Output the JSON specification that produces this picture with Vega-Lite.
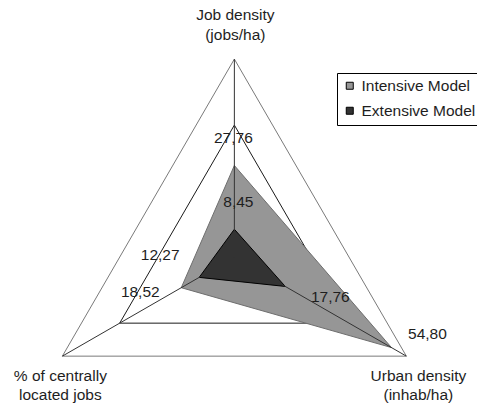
{
  "$schema": "https://vega.github.io/schema/vega-lite/v6.json",
  "width": 477,
  "height": 405,
  "padding": 0,
  "autosize": "none",
  "config": {
    "view": {"stroke": null},
    "font": "Liberation Sans",
    "text": {"font": "Liberation Sans", "fontSize": 15.5, "color": "#1e1e1e"},
    "locale": {"number": {"decimal": ",", "thousands": ".", "grouping": [3], "currency": ["", ""]}}
  },
  "datasets": {
    "axes": [
      {"axis": "Job density", "k": 0, "title": "Job density|(jobs/ha)", "max": 60},
      {"axis": "Urban density", "k": 1, "title": "Urban density|(inhab/ha)", "max": 60},
      {"axis": "% of centrally located jobs", "k": 2, "title": "% of centrally|located jobs", "max": 60}
    ],
    "grid": [
      {"level": 40, "k": 0}, {"level": 40, "k": 1}, {"level": 40, "k": 2},
      {"level": 60, "k": 0}, {"level": 60, "k": 1}, {"level": 60, "k": 2}
    ],
    "models": [
      {"series": "Intensive Model", "axis": "Job density", "k": 0, "value": 27.76},
      {"series": "Intensive Model", "axis": "Urban density", "k": 1, "value": 54.80},
      {"series": "Intensive Model", "axis": "% of centrally located jobs", "k": 2, "value": 18.52},
      {"series": "Extensive Model", "axis": "Job density", "k": 0, "value": 8.45},
      {"series": "Extensive Model", "axis": "Urban density", "k": 1, "value": 17.76},
      {"series": "Extensive Model", "axis": "% of centrally located jobs", "k": 2, "value": 12.27}
    ]
  },
  "layer": [
    {
      "data": {"name": "grid"},
      "transform": [
        {"filter": "datum.level == 40"},
        {"calculate": "datum.k == 0 ? PI/2 : (datum.k == 1 ? -PI/6 : 7*PI/6)", "as": "ang"},
        {"calculate": "datum.level * cos(datum.ang)", "as": "px"},
        {"calculate": "datum.level * sin(datum.ang)", "as": "py"}
      ],
      "mark": {"type": "line", "interpolate": "linear-closed", "stroke": "#1a1a1a", "strokeWidth": 1},
      "encoding": {
        "x": {"field": "px", "type": "quantitative", "scale": {"domain": [-70.8, 73.3], "nice": false, "zero": false}, "axis": null},
        "y": {"field": "py", "type": "quantitative", "scale": {"domain": [-44.8, 77.9], "nice": false, "zero": false}, "axis": null},
        "order": {"field": "k", "type": "quantitative"},
        "detail": {"field": "level", "type": "nominal"}
      }
    },
    {
      "data": {"name": "grid"},
      "transform": [
        {"filter": "datum.level == 60"},
        {"calculate": "datum.k == 0 ? PI/2 : (datum.k == 1 ? -PI/6 : 7*PI/6)", "as": "ang"},
        {"calculate": "datum.level * cos(datum.ang)", "as": "px"},
        {"calculate": "datum.level * sin(datum.ang)", "as": "py"}
      ],
      "mark": {"type": "line", "interpolate": "linear-closed", "stroke": "#7a7a7a", "strokeWidth": 1},
      "encoding": {
        "x": {"field": "px", "type": "quantitative"},
        "y": {"field": "py", "type": "quantitative"},
        "order": {"field": "k", "type": "quantitative"},
        "detail": {"field": "level", "type": "nominal"}
      }
    },
    {
      "data": {"name": "models"},
      "transform": [
        {"filter": "datum.series == 'Intensive Model'"},
        {"calculate": "datum.k == 0 ? PI/2 : (datum.k == 1 ? -PI/6 : 7*PI/6)", "as": "ang"},
        {"calculate": "datum.value * cos(datum.ang)", "as": "px"},
        {"calculate": "datum.value * sin(datum.ang)", "as": "py"}
      ],
      "mark": {"type": "line", "interpolate": "linear-closed", "stroke": "#6e6e6e", "strokeWidth": 1},
      "encoding": {
        "x": {"field": "px", "type": "quantitative"},
        "y": {"field": "py", "type": "quantitative"},
        "order": {"field": "k", "type": "quantitative"},
        "fill": {
          "field": "series", "type": "nominal",
          "scale": {"domain": ["Intensive Model", "Extensive Model"], "range": ["#969696", "#333333"]},
          "legend": {
            "orient": "none", "legendX": 337, "legendY": 73, "title": null,
            "symbolType": "square", "symbolSize": 49, "symbolStrokeColor": "#000", "symbolStrokeWidth": 1,
            "labelFontSize": 15.5, "labelFont": "Liberation Sans", "labelColor": "#1e1e1e",
            "strokeColor": "#000", "fillColor": "#fff", "padding": 5, "rowPadding": 8, "labelOffset": 4
          }
        }
      }
    },
    {
      "data": {"name": "models"},
      "transform": [
        {"filter": "datum.series == 'Extensive Model'"},
        {"calculate": "datum.k == 0 ? PI/2 : (datum.k == 1 ? -PI/6 : 7*PI/6)", "as": "ang"},
        {"calculate": "datum.value * cos(datum.ang)", "as": "px"},
        {"calculate": "datum.value * sin(datum.ang)", "as": "py"}
      ],
      "mark": {"type": "line", "interpolate": "linear-closed", "stroke": "#000", "strokeWidth": 1},
      "encoding": {
        "x": {"field": "px", "type": "quantitative"},
        "y": {"field": "py", "type": "quantitative"},
        "order": {"field": "k", "type": "quantitative"},
        "fill": {"field": "series", "type": "nominal"}
      }
    },
    {
      "data": {"name": "axes"},
      "transform": [
        {"calculate": "datum.k == 0 ? PI/2 : (datum.k == 1 ? -PI/6 : 7*PI/6)", "as": "ang"},
        {"calculate": "datum.max * cos(datum.ang)", "as": "px"},
        {"calculate": "datum.max * sin(datum.ang)", "as": "py"}
      ],
      "mark": {"type": "rule", "stroke": "#333", "strokeWidth": 1},
      "encoding": {
        "x": {"field": "px", "type": "quantitative"},
        "y": {"field": "py", "type": "quantitative"},
        "x2": {"datum": 0},
        "y2": {"datum": 0}
      }
    },
    {
      "data": {"name": "axes"},
      "transform": [
        {"filter": "datum.k == 0"},
        {"calculate": "datum.max * cos(PI/2)", "as": "px"},
        {"calculate": "datum.max * sin(PI/2)", "as": "py"}
      ],
      "mark": {"type": "text", "lineBreak": "|", "align": "center", "baseline": "middle", "lineHeight": 20, "dx": 1, "dy": -44},
      "encoding": {
        "x": {"field": "px", "type": "quantitative"},
        "y": {"field": "py", "type": "quantitative"},
        "text": {"field": "title", "type": "nominal"}
      }
    },
    {
      "data": {"name": "axes"},
      "transform": [
        {"filter": "datum.k == 1"},
        {"calculate": "datum.max * cos(-PI/6)", "as": "px"},
        {"calculate": "datum.max * sin(-PI/6)", "as": "py"}
      ],
      "mark": {"type": "text", "lineBreak": "|", "align": "center", "baseline": "middle", "lineHeight": 19, "dx": 12, "dy": 20},
      "encoding": {
        "x": {"field": "px", "type": "quantitative"},
        "y": {"field": "py", "type": "quantitative"},
        "text": {"field": "title", "type": "nominal"}
      }
    },
    {
      "data": {"name": "axes"},
      "transform": [
        {"filter": "datum.k == 2"},
        {"calculate": "datum.max * cos(7*PI/6)", "as": "px"},
        {"calculate": "datum.max * sin(7*PI/6)", "as": "py"}
      ],
      "mark": {"type": "text", "lineBreak": "|", "align": "center", "baseline": "middle", "lineHeight": 19, "dx": -2, "dy": 20},
      "encoding": {
        "x": {"field": "px", "type": "quantitative"},
        "y": {"field": "py", "type": "quantitative"},
        "text": {"field": "title", "type": "nominal"}
      }
    },
    {
      "data": {"name": "models"},
      "transform": [
        {"filter": "datum.k == 0 && datum.series == 'Intensive Model'"},
        {"calculate": "datum.value * cos(PI/2)", "as": "px"},
        {"calculate": "datum.value * sin(PI/2)", "as": "py"}
      ],
      "mark": {"type": "text", "align": "center", "baseline": "middle", "dx": -1, "dy": -27},
      "encoding": {
        "x": {"field": "px", "type": "quantitative"},
        "y": {"field": "py", "type": "quantitative"},
        "text": {"field": "value", "type": "quantitative", "format": ".2f"}
      }
    },
    {
      "data": {"name": "models"},
      "transform": [
        {"filter": "datum.k == 0 && datum.series == 'Extensive Model'"},
        {"calculate": "datum.value * cos(PI/2)", "as": "px"},
        {"calculate": "datum.value * sin(PI/2)", "as": "py"}
      ],
      "mark": {"type": "text", "align": "center", "baseline": "middle", "dx": 4, "dy": -27},
      "encoding": {
        "x": {"field": "px", "type": "quantitative"},
        "y": {"field": "py", "type": "quantitative"},
        "text": {"field": "value", "type": "quantitative", "format": ".2f"}
      }
    },
    {
      "data": {"name": "models"},
      "transform": [
        {"filter": "datum.k == 1 && datum.series == 'Intensive Model'"},
        {"calculate": "datum.value * cos(-PI/6)", "as": "px"},
        {"calculate": "datum.value * sin(-PI/6)", "as": "py"}
      ],
      "mark": {"type": "text", "align": "center", "baseline": "middle", "dx": 36, "dy": -14},
      "encoding": {
        "x": {"field": "px", "type": "quantitative"},
        "y": {"field": "py", "type": "quantitative"},
        "text": {"field": "value", "type": "quantitative", "format": ".2f"}
      }
    },
    {
      "data": {"name": "models"},
      "transform": [
        {"filter": "datum.k == 1 && datum.series == 'Extensive Model'"},
        {"calculate": "datum.value * cos(-PI/6)", "as": "px"},
        {"calculate": "datum.value * sin(-PI/6)", "as": "py"}
      ],
      "mark": {"type": "text", "align": "center", "baseline": "middle", "dx": 45, "dy": 11},
      "encoding": {
        "x": {"field": "px", "type": "quantitative"},
        "y": {"field": "py", "type": "quantitative"},
        "text": {"field": "value", "type": "quantitative", "format": ".2f"}
      }
    },
    {
      "data": {"name": "models"},
      "transform": [
        {"filter": "datum.k == 2 && datum.series == 'Intensive Model'"},
        {"calculate": "datum.value * cos(7*PI/6)", "as": "px"},
        {"calculate": "datum.value * sin(7*PI/6)", "as": "py"}
      ],
      "mark": {"type": "text", "align": "center", "baseline": "middle", "dx": -41, "dy": 4},
      "encoding": {
        "x": {"field": "px", "type": "quantitative"},
        "y": {"field": "py", "type": "quantitative"},
        "text": {"field": "value", "type": "quantitative", "format": ".2f"}
      }
    },
    {
      "data": {"name": "models"},
      "transform": [
        {"filter": "datum.k == 2 && datum.series == 'Extensive Model'"},
        {"calculate": "datum.value * cos(7*PI/6)", "as": "px"},
        {"calculate": "datum.value * sin(7*PI/6)", "as": "py"}
      ],
      "mark": {"type": "text", "align": "center", "baseline": "middle", "dx": -39, "dy": -22},
      "encoding": {
        "x": {"field": "px", "type": "quantitative"},
        "y": {"field": "py", "type": "quantitative"},
        "text": {"field": "value", "type": "quantitative", "format": ".2f"}
      }
    }
  ]
}
